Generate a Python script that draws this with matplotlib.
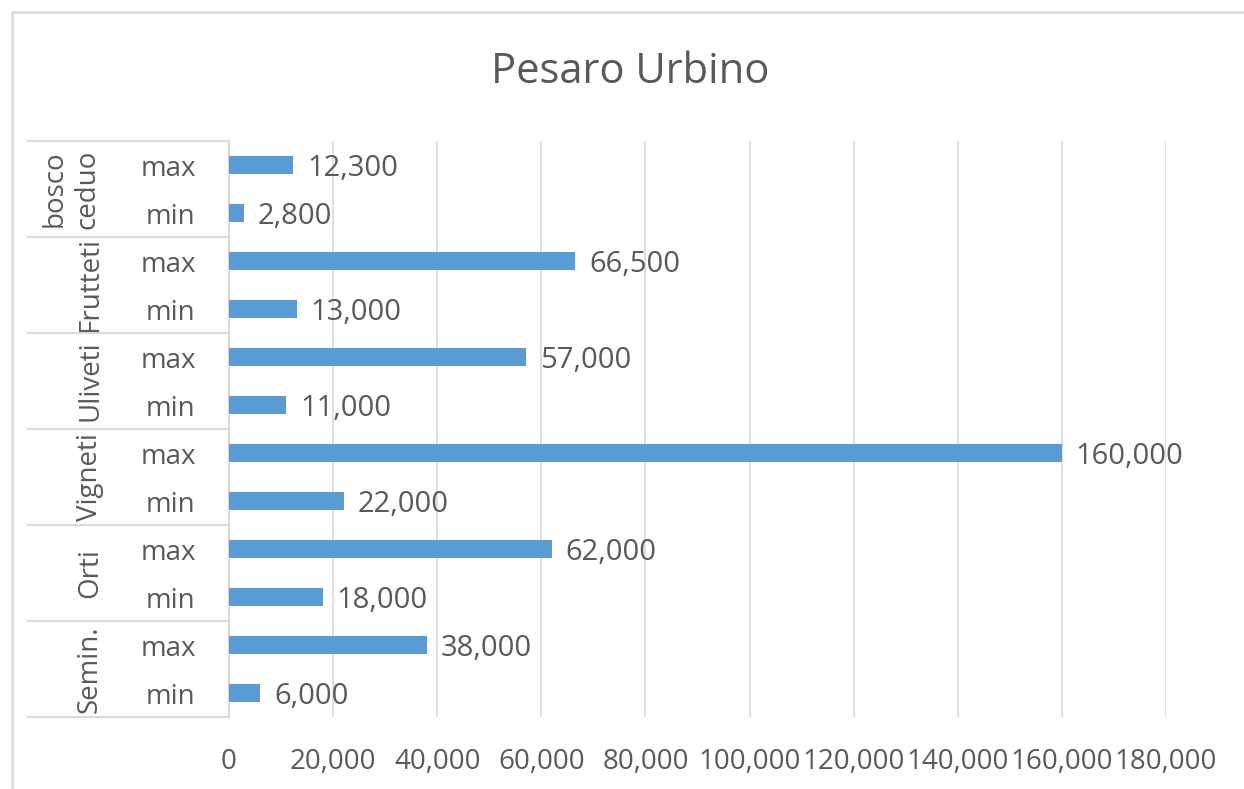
import matplotlib
matplotlib.use("Agg")
import matplotlib.pyplot as plt
import matplotlib.transforms as mtransforms
from matplotlib.lines import Line2D
from matplotlib.patches import Rectangle
import numpy as np

# ---- data ----
title = "Pesaro Urbino"
groups = ["bosco\nceduo", "Frutteti", "Uliveti", "Vigneti", "Orti", "Semin."]
sub_labels = ["max", "min"]
max_values = [12300, 66500, 57000, 160000, 62000, 38000]
min_values = [2800, 13000, 11000, 22000, 18000, 6000]
x_ticks = [0, 20000, 40000, 60000, 80000, 100000, 120000, 140000, 160000, 180000]

# ---- style ----
plt.rcParams['font.family'] = ['Open Sans', 'DejaVu Sans']
TXT = "#595959"
BAR = "#5B9BD5"
GRID = "#D9D9D9"

W, H = 1244, 789
fig = plt.figure(figsize=(W / 100, H / 100), dpi=100)
fig.patch.set_facecolor("white")

# outer chart border
fig.add_artist(Rectangle((12 / W, -0.1), 1.2, (H - 12) / H + 0.1, transform=fig.transFigure,
                         fill=False, edgecolor=GRID, linewidth=1.8))

left, right, top, bottom = 229, 1166, 141, 717
ax = fig.add_axes([left / W, 1 - bottom / H, (right - left) / W, (bottom - top) / H])

values = []
labels = []
for mx, mn in zip(max_values, min_values):
    values += [mx, mn]
    labels += sub_labels
y = np.arange(len(values))

bars = ax.barh(y, values, height=0.38, color=BAR, zorder=3)
anns = ax.bar_label(bars, labels=[f"{v:,.0f}" for v in values], padding=10,
                    fontsize=21, color=TXT)
for a in anns:
    a.xyann = (10, -2.5)

ax.set_ylim(len(values) - 0.5, -0.5)
ax.set_xlim(0, 180000)
ax.set_xticks(x_ticks)
ax.set_xticklabels([f"{v:,.0f}" for v in x_ticks], fontsize=20, color=TXT)
ax.set_yticks(y)
ax.set_yticklabels(labels, fontsize=20, color=TXT)
ax.tick_params(axis='x', length=0, pad=22)
ax.tick_params(axis='y', length=0, pad=24)
ax.xaxis.grid(True, color=GRID, linewidth=1.2, zorder=0)
ax.set_axisbelow(True)
for side in ["top", "right", "bottom"]:
    ax.spines[side].set_visible(False)
ax.spines["left"].set_color(GRID)
ax.spines["left"].set_linewidth(1.5)

# group dividers and labels
blend = mtransforms.blended_transform_factory(fig.transFigure, ax.transData)
n_sub = len(sub_labels)
for k in range(len(groups) + 1):
    yb = k * n_sub - 0.5
    fig.add_artist(Line2D([28 / W, left / W], [yb, yb], transform=blend,
                          color=GRID, linewidth=1.5))
for k, g in enumerate(groups):
    yc = k * n_sub + (n_sub - 1) / 2
    nlines = g.count("\n") + 1
    xc = 90 - 19 * (nlines - 1)
    ax.text(xc / W, yc, g, transform=blend, rotation=90, ha='center', va='center',
            fontsize=20, color=TXT, linespacing=1.25)

fig.text(630 / W, 1 - 72 / H, title, ha='center', va='center', fontsize=30, color=TXT)

fig.savefig("out.png", dpi=100, facecolor="white")
